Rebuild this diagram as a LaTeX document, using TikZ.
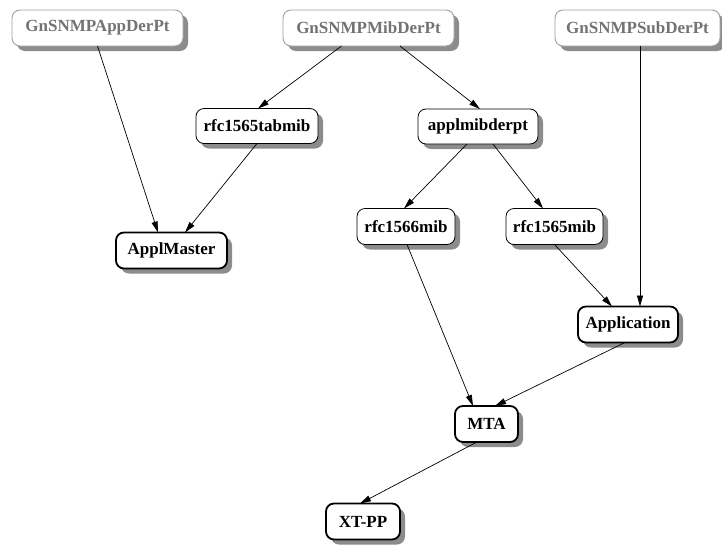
\documentclass[tikz,border=0pt]{standalone}
\usepackage{fontspec}
\setmainfont{Liberation Serif}
\usetikzlibrary{shadows,arrows.meta}
\definecolor{shadowgray}{rgb}{0.55,0.55,0.55}
\definecolor{rootline}{rgb}{0.62,0.62,0.62}
\definecolor{roottext}{rgb}{0.45,0.45,0.45}
\begin{document}
\begin{tikzpicture}[x=1pt,y=-1pt,
  box/.style={rectangle, rounded corners=8pt, minimum height=36pt, inner sep=0pt,
    outer sep=0pt, fill=white, font=\bfseries\fontsize{17}{20}\selectfont,
    drop shadow={shadow xshift=5pt, shadow yshift=-5pt, fill=shadowgray, opacity=1}},
  rootbox/.style={box, draw=rootline, line width=0.9pt, text=roottext},
  midbox/.style={box, draw=black, line width=0.8pt},
  leafbox/.style={box, draw=black, line width=1.8pt},
  dep/.style={draw=black, line width=0.7pt, -{Triangle[length=11pt,width=6pt]}}]
\useasboundingbox (0,0) rectangle (722,544);

% top row: derivation points
\node[rootbox, minimum width=171pt] (app) at (97.5,28) {GnSNMPAppDerPt};
\node[rootbox, minimum width=171pt] (mib) at (368.5,28) {GnSNMPMibDerPt};
\node[rootbox, minimum width=165pt] (sub) at (637.5,28) {GnSNMPSubDerPt};

% intermediate MIB modules
\node[midbox, minimum width=122pt, minimum height=35pt] (tab) at (257,126) {rfc1565tabmib};
\node[midbox, minimum width=120pt, minimum height=35pt] (appl) at (478,126.5) {applmibderpt};
\node[midbox, minimum width=98pt] (r66) at (406,226.5) {rfc1566mib};
\node[midbox, minimum width=97pt] (r65) at (554.5,226.5) {rfc1565mib};

% final components
\node[leafbox, minimum width=111pt] (master) at (171.5,250.5) {ApplMaster};
\node[leafbox, minimum width=100pt] (application) at (628,324.5) {Application};
\node[leafbox, minimum width=63pt] (mta) at (486.5,424) {MTA};
\node[leafbox, minimum width=74pt] (xt) at (363,521.5) {XT-PP};

% dependencies
\draw[dep] (app.south) -- ([xshift=-13.5pt]master.north);
\draw[dep] (tab.south) -- ([xshift=13.5pt]master.north);
\draw[dep] ([xshift=-27pt]mib.south) -- ([xshift=1pt]tab.north);
\draw[dep] ([xshift=31.5pt]mib.south) -- ([xshift=2pt]appl.north);
\draw[dep] ([xshift=-11pt]appl.south) -- ([xshift=-2pt]r66.north);
\draw[dep] ([xshift=15pt]appl.south) -- ([xshift=-11.5pt]r65.north);
\draw[dep] ([xshift=1pt]r66.south) -- ([xshift=-13.5pt]mta.north);
\draw[dep] (r65.south) -- ([xshift=-16pt]application.north);
\draw[dep] ([xshift=2.5pt]sub.south) -- ([xshift=12pt]application.north);
\draw[dep] ([xshift=-3pt]application.south) -- ([xshift=8.5pt]mta.north);
\draw[dep] ([xshift=-9.5pt]mta.south) -- ([xshift=-3pt]xt.north);
\end{tikzpicture}
\end{document}
